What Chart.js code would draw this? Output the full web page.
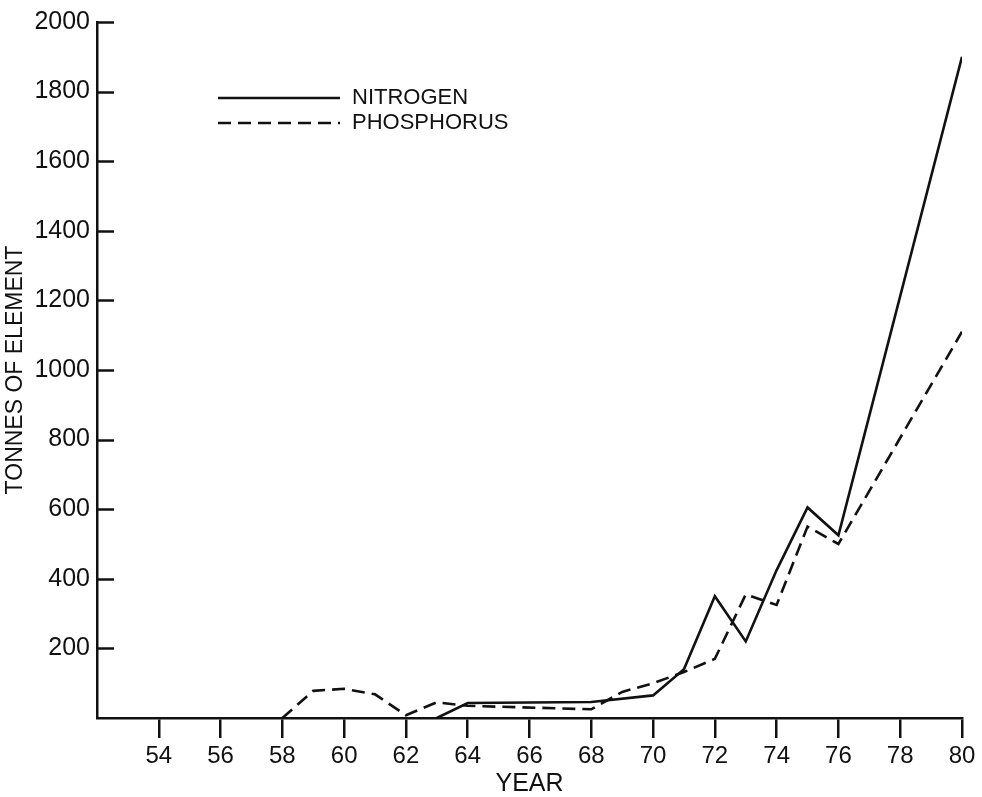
<!DOCTYPE html>
<html>
<head>
<meta charset="utf-8">
<script src="https://cdn.jsdelivr.net/npm/chart.js@4/dist/chart.umd.min.js"></script>
<style>
  html, body { margin: 0; padding: 0; background: #fff; }
  canvas { display: block; }
</style>
</head>
<body>
<canvas id="chart" width="982" height="797"></canvas>
<script>
// Values
const nitrogenYears = [63, 64, 68, 70, 71, 72, 73, 74, 75, 76, 80];
const nitrogenTonnes = [0, 43, 46, 65, 140, 350, 220, 425, 605, 525, 1900];

const phosphorusYears = [58, 59, 60, 61, 62, 63, 64, 68, 69, 70, 71, 72, 73, 74, 75, 76, 80];
const phosphorusTonnes = [0, 78, 84, 68, 8, 45, 35, 25, 75, 100, 132, 170, 355, 325, 550, 500, 1110];

const yearTicks = [54, 56, 58, 60, 62, 64, 66, 68, 70, 72, 74, 76, 78, 80];
const tonneTicks = [200, 400, 600, 800, 1000, 1200, 1400, 1600, 1800, 2000];

const seriesNames = ['NITROGEN', 'PHOSPHORUS'];

const sans = "'Liberation Sans', Arial, sans-serif";
const INK = '#111';

function points(xs, ys) {
    return xs.map((x, i) => ({ x: x, y: ys[i] }));
}

// inward tick marks on the y axis
const innerTicks = {
    id: 'innerTicks',
    afterDraw(chart) {
        const ctx = chart.ctx;
        const y = chart.scales.y;
        const left = chart.chartArea.left;
        ctx.save();
        ctx.strokeStyle = INK;
        ctx.lineWidth = 2.5;
        tonneTicks.forEach(v => {
            const py = Math.round(y.getPixelForValue(v)) + 0.5;
            ctx.beginPath();
            ctx.moveTo(left, py);
            ctx.lineTo(left + 17, py);
            ctx.stroke();
        });
        ctx.restore();
    }
};

// legend in the upper left of the plot
const keyBox = {
    id: 'keyBox',
    afterDraw(chart) {
        const ctx = chart.ctx;
        const dashes = [[], [13, 7]];
        ctx.save();
        ctx.strokeStyle = INK;
        ctx.fillStyle = INK;
        ctx.lineWidth = 2.5;
        ctx.font = "22px " + sans;
        ctx.textBaseline = 'middle';
        seriesNames.forEach((name, i) => {
            const y = 98 + i * 25;
            ctx.setLineDash(dashes[i]);
            ctx.beginPath();
            ctx.moveTo(218, y);
            ctx.lineTo(340, y);
            ctx.stroke();
            ctx.fillText(name, 352, y);
        });
        ctx.restore();
    }
};

new Chart(document.getElementById('chart'), {
    type: 'line',
    data: {
        datasets: [{
            label: seriesNames[0],
            data: points(nitrogenYears, nitrogenTonnes),
            borderColor: INK,
            borderWidth: 2.6,
            pointRadius: 0,
            tension: 0,
            fill: false
        }, {
            label: seriesNames[1],
            data: points(phosphorusYears, phosphorusTonnes),
            borderColor: INK,
            borderWidth: 2.6,
            borderDash: [13, 7],
            pointRadius: 0,
            tension: 0,
            fill: false
        }]
    },
    options: {
        responsive: false,
        animation: false,
        layout: { padding: { top: 20, right: 20, left: 0, bottom: 0 } },
        plugins: {
            legend: { display: false },
            tooltip: { enabled: false }
        },
        scales: {
            x: {
                type: 'linear',
                min: 52,
                max: 80,
                afterBuildTicks: scale => {
                    scale.ticks = yearTicks.map(v => ({ value: v }));
                },
                afterFit: scale => { scale.height = 79; },
                ticks: {
                    color: INK,
                    padding: 4,
                    maxRotation: 0,
                    callback: v => String(v),
                    font: { family: sans, size: 24 }
                },
                grid: {
                    drawOnChartArea: false,
                    drawTicks: true,
                    tickLength: 20,
                    color: INK,
                    lineWidth: 2.5
                },
                border: { display: true, color: INK, width: 2.5 },
                title: {
                    display: true,
                    text: 'YEAR',
                    color: INK,
                    padding: { top: 0, bottom: 0 },
                    font: { family: sans, size: 25, lineHeight: 1 }
                }
            },
            y: {
                min: 0,
                max: 2000,
                afterBuildTicks: scale => {
                    scale.ticks = tonneTicks.map(v => ({ value: v }));
                },
                afterFit: scale => { scale.width = 97; },
                ticks: {
                    color: INK,
                    padding: 7,
                    callback: v => String(v),
                    font: { family: sans, size: 25 }
                },
                grid: { display: false, drawTicks: false },
                border: { display: true, color: INK, width: 2.5 },
                title: {
                    display: true,
                    text: 'TONNES OF ELEMENT',
                    color: INK,
                    padding: { top: 4, bottom: 0 },
                    font: { family: sans, size: 23, lineHeight: 1 }
                }
            }
        }
    },
    plugins: [innerTicks, keyBox]
});
</script>
</body>
</html>
